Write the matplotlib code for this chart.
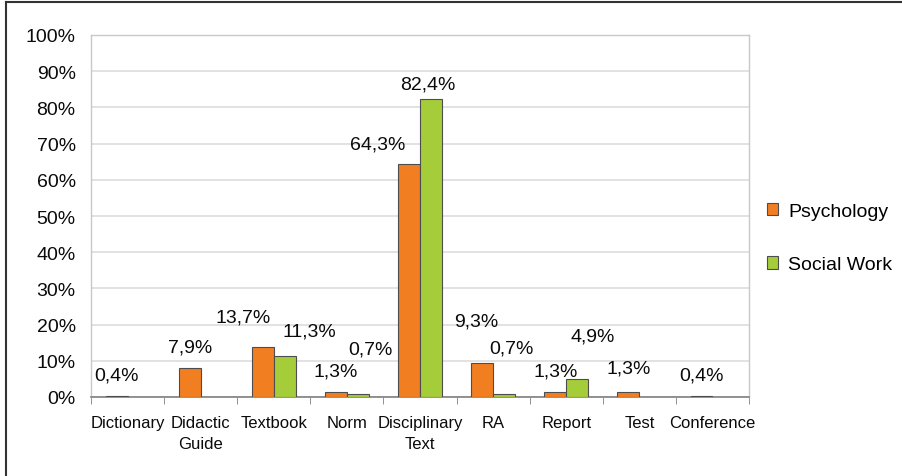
import matplotlib.pyplot as plt
import numpy as np
from matplotlib.lines import Line2D

plt.rcParams['font.family'] = ['Liberation Sans', 'DejaVu Sans']

# data
categories = ['Dictionary', 'Didactic\nGuide', 'Textbook', 'Norm', 'Disciplinary\nText',
              'RA', 'Report', 'Test', 'Conference']
psychology = [0.4, 7.9, 13.7, 1.3, 64.3, 9.3, 1.3, 1.3, 0.4]
social_work = [None, None, 11.3, 0.7, 82.4, 0.7, 4.9, None, None]

# label offsets in pixels (dx, dy) from the top of each bar
psy_offsets = [(0, 21), (0, 21), (-20, 30), (0, 21), (-31, 20), (-6, 42), (0, 21), (0, 24), (0, 21)]
sw_offsets = [None, None, (25, 25), (13, 45), (-3, 15), (7, 46), (15, 43), None, None]

orange = '#F27E22'
green = '#A5CD3A'
edge = '#4D4D4D'

W, H = 903, 477
fig = plt.figure(figsize=(W / 100, H / 100), dpi=100)
ax = fig.add_axes([91 / W, 1 - 398 / H, (749 - 91) / W, (398 - 36) / H])

x = np.arange(len(categories))
bw = 0.30

def fmt(v):
    return f'{v:.1f}%'.replace('.', ',')

for i, v in enumerate(psychology):
    ax.bar(x[i] - bw / 2, v, bw, color=orange, edgecolor=edge, linewidth=0.8, zorder=3)
    dx, dy = psy_offsets[i]
    ax.annotate(fmt(v), (x[i] - bw / 2, v), xytext=(dx, dy), textcoords='offset pixels',
                ha='center', va='center', fontsize=14, color='#0A0A0A')

for i, v in enumerate(social_work):
    if v is None:
        continue
    ax.bar(x[i] + bw / 2, v, bw, color=green, edgecolor=edge, linewidth=0.8, zorder=3)
    dx, dy = sw_offsets[i]
    ax.annotate(fmt(v), (x[i] + bw / 2, v), xytext=(dx, dy), textcoords='offset pixels',
                ha='center', va='center', fontsize=14, color='#0A0A0A')

ax.set_xlim(-0.5, len(categories) - 0.5)
ax.set_ylim(0, 100)
ax.set_yticks(np.arange(0, 101, 10))
ax.set_yticklabels([f'{t}%' for t in range(0, 101, 10)], fontsize=14, color='#0A0A0A')
ax.yaxis.grid(True, color='#DDDDDD', linewidth=1.2, zorder=0)
ax.set_axisbelow(True)
ax.tick_params(axis='y', length=0, pad=11)

ax.set_xticks(x)
ax.set_xticklabels(categories, fontsize=12, color='#0A0A0A', linespacing=1.5)
ax.set_xticks(np.arange(-0.5, len(categories)), minor=True)
ax.tick_params(axis='x', which='major', length=0, pad=13)
ax.tick_params(axis='x', which='minor', length=5, color='#808080', direction='out')

for s in ['left', 'right', 'top']:
    ax.spines[s].set_color('#C8C8C8')
    ax.spines[s].set_linewidth(1)
ax.spines['bottom'].set_color('#808080')
ax.spines['bottom'].set_linewidth(1.2)

handles = [plt.Rectangle((0, 0), 1, 1, facecolor=orange, edgecolor=edge, linewidth=0.8),
           plt.Rectangle((0, 0), 1, 1, facecolor=green, edgecolor=edge, linewidth=0.8)]
fig.legend(handles, ['Psychology', 'Social Work'], loc='center left',
           bbox_to_anchor=(757 / W, 1 - 239 / H), frameon=False, fontsize=14,
           handlelength=0.6, handleheight=0.6, handletextpad=0.5, labelspacing=1.9,
           borderpad=0)

# outer frame on the left and top edges
fig.add_artist(Line2D([6 / W, 6 / W], [0, 1 - 3 / H], transform=fig.transFigure,
                      color='#333333', linewidth=1.5))
fig.add_artist(Line2D([6 / W, 1 - 2 / W], [1 - 3 / H, 1 - 3 / H], transform=fig.transFigure,
                      color='#333333', linewidth=1.5))

fig.savefig('out.png', dpi=100)
